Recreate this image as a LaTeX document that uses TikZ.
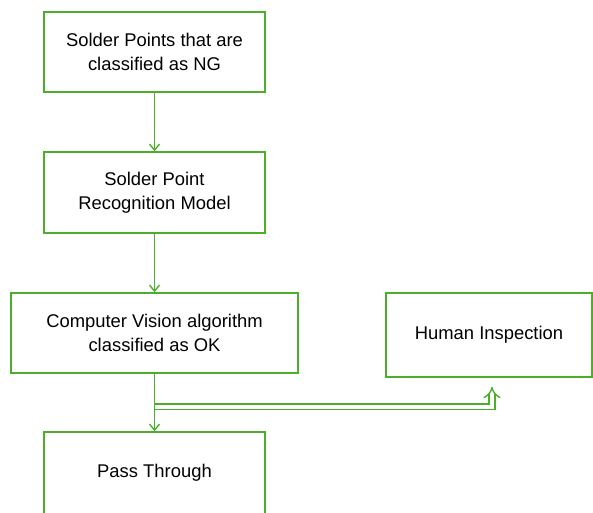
\documentclass[tikz,border=0pt]{standalone}
\usepackage{fontspec}
\setmainfont{Liberation Sans}
\usetikzlibrary{arrows.meta}
\definecolor{flowgreen}{RGB}{76,175,44}

\begin{document}
\begin{tikzpicture}[x=1pt, y=-1pt,
    box/.style={draw=flowgreen, line width=1.6pt, minimum width=221pt, minimum height=80pt,
      align=center, inner sep=0pt, font=\fontsize{18.4}{24.5}\selectfont},
    flow/.style={draw=flowgreen, line width=1.4pt, -{Straight Barb[length=6pt, width=10pt]}},
    branch/.style={draw=flowgreen, line width=1.4pt, double=white, double distance=4.5pt, -{Implies}}
  ]
  \useasboundingbox (0,0) rectangle (593,512);
  \clip (0,0) rectangle (593,512);

  \node[box] (ng) at (154.5,52) {Solder Points that are\\classified as NG};
  \node[box, minimum height=81pt] (model) at (154.5,192.5) {Solder Point\\Recognition Model};
  \node[box, minimum width=287pt] (cv) at (154.5,333) {Computer Vision algorithm\\classified as OK};
  \node[box, minimum width=206pt, minimum height=84pt] (human) at (489,335) {Human Inspection};
  \node[box, minimum height=82pt] (pass) at (154.5,473) {Pass Through};

  % Main flow
  \draw[flow] (ng) -- (model);
  \draw[flow] (model) -- (cv);
  \draw[flow] (cv) -- (pass);

  % Branch to manual check
  \coordinate (split) at ([yshift=-33pt]cv.south);
  \draw[branch] (split) -| ([xshift=3pt, yshift=-9pt]human.south);
\end{tikzpicture}
\end{document}
